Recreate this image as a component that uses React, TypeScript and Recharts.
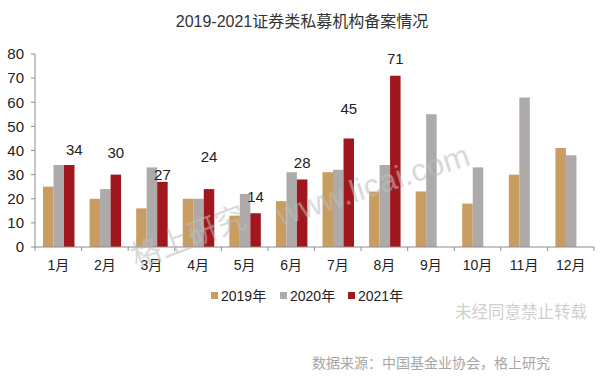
import React from "react";
import { BarChart, Bar, XAxis, YAxis, LabelList } from "recharts";

const MONTHS = ["1月", "2月", "3月", "4月", "5月", "6月", "7月", "8月", "9月", "10月", "11月", "12月"];
const Y2019 = [25, 20, 16, 20, 13, 19, 31, 23, 23, 18, 30, 41];
const Y2020 = [34, 24, 33, 20, 22, 31, 32, 34, 55, 33, 62, 38];
const Y2021 = [34, 30, 27, 24, 14, 28, 45, 71, null, null, null, null];
const Y_TICKS = [0, 10, 20, 30, 40, 50, 60, 70, 80];

const SERIES = [
  { key: "y2019", name: "2019年", color: "#C99C62" },
  { key: "y2020", name: "2020年", color: "#AEAAAA" },
  { key: "y2021", name: "2021年", color: "#A1171E" },
];

// nudges for the 2021 value labels (px above bar top, px right), as placed by hand in the original
const LABEL_NUDGE = [
  [15, 5], [22, 0], [7, 0], [33, 0], [17, 0], [17, 0], [30, 0], [17, 0],
];

const W = 604;
const H = 378;
const PLOT_LEFT = 35;
const PLOT_RIGHT = 10;
const BAND = (W - PLOT_LEFT - PLOT_RIGHT) / MONTHS.length;
const FONT = "'Liberation Sans', 'Noto Sans CJK SC', sans-serif";
const AXIS = "#8c8c8c";

const data = MONTHS.map((m, i) => ({
  month: m,
  y2019: Y2019[i],
  y2020: Y2020[i],
  y2021: Y2021[i],
}));

function MonthTick(props: any) {
  const { x, y, payload, index } = props;
  return (
    <g>
      <line x1={x - BAND / 2} x2={x - BAND / 2} y1={y} y2={y + 4} stroke={AXIS} />
      {index === MONTHS.length - 1 && (
        <line x1={x + BAND / 2} x2={x + BAND / 2} y1={y} y2={y + 4} stroke={AXIS} />
      )}
      <text
        x={x}
        y={y + 18}
        textAnchor="middle"
        dominantBaseline="central"
        fontSize={14}
        fontFamily={FONT}
        fill="#222"
      >
        {payload.value}
      </text>
    </g>
  );
}

function ValueLabel(props: any) {
  const { x, y, width, value, index } = props;
  if (value == null) return null;
  const [lift, dx] = LABEL_NUDGE[index] ?? [15, 0];
  return (
    <text
      x={x + width / 2 + dx}
      y={y - lift}
      textAnchor="middle"
      dominantBaseline="central"
      fontSize={15}
      fontFamily={FONT}
      fill="#222"
    >
      {value}
    </text>
  );
}

export default function App() {
  return (
    <div style={{ position: "absolute", left: 0, top: 0, width: W, height: H, background: "#fff" }}>
      <BarChart
        width={W}
        height={H}
        data={data}
        margin={{ top: 54, right: PLOT_RIGHT, bottom: 101, left: 0 }}
        barGap={0}
        barSize={10.5}
      >
        <XAxis
          dataKey="month"
          stroke={AXIS}
          tickLine={false}
          tickSize={0}
          tickMargin={0}
          height={30}
          interval={0}
          tick={<MonthTick />}
        />
        <YAxis
          domain={[0, 80]}
          ticks={Y_TICKS}
          width={PLOT_LEFT}
          stroke={AXIS}
          tickSize={4}
          tickMargin={7}
          tick={{ fontSize: 15, fontFamily: FONT, fill: "#222" }}
          interval={0}
        />
        {SERIES.map((s) => (
          <Bar key={s.key} dataKey={s.key} name={s.name} fill={s.color} isAnimationActive={false}>
            {s.key === "y2021" && <LabelList dataKey="y2021" content={<ValueLabel />} />}
          </Bar>
        ))}
      </BarChart>

      <svg
        width={W}
        height={H}
        style={{ position: "absolute", left: 0, top: 0, pointerEvents: "none" }}
      >
        <text x={302} y={21} textAnchor="middle" dominantBaseline="central" fontSize={16} fontFamily={FONT} fill="#333">
          2019-2021证券类私募机构备案情况
        </text>

        <g fontFamily={FONT} fill="#bdbdbd" opacity={0.6}>
          <text x={188} y={236} textAnchor="middle" dominantBaseline="central" fontSize={30} transform="rotate(-21 188 236)">
            格上研究
          </text>
          <text x={373} y={185} textAnchor="middle" dominantBaseline="central" fontSize={32} transform="rotate(-18 373 185)">
            www.licai.com
          </text>
        </g>

        <g fontFamily={FONT} fontSize={14} fill="#222">
          {SERIES.map((s, i) => {
            const mx = [211, 280, 348][i];
            return (
              <g key={s.key}>
                <rect x={mx} y={292} width={7} height={7} fill={s.color} />
                <text x={mx + 10} y={296} dominantBaseline="central">
                  {s.name}
                </text>
              </g>
            );
          })}
        </g>

        <text x={587} y={312} textAnchor="end" dominantBaseline="central" fontSize={16.5} fontFamily={FONT} fill="#d0d0d0">
          未经同意禁止转载
        </text>
        <text x={312} y={363} dominantBaseline="central" fontSize={14} fontFamily={FONT} fill="#a6a6a6">
          数据来源：中国基金业协会，格上研究
        </text>
      </svg>
    </div>
  );
}
